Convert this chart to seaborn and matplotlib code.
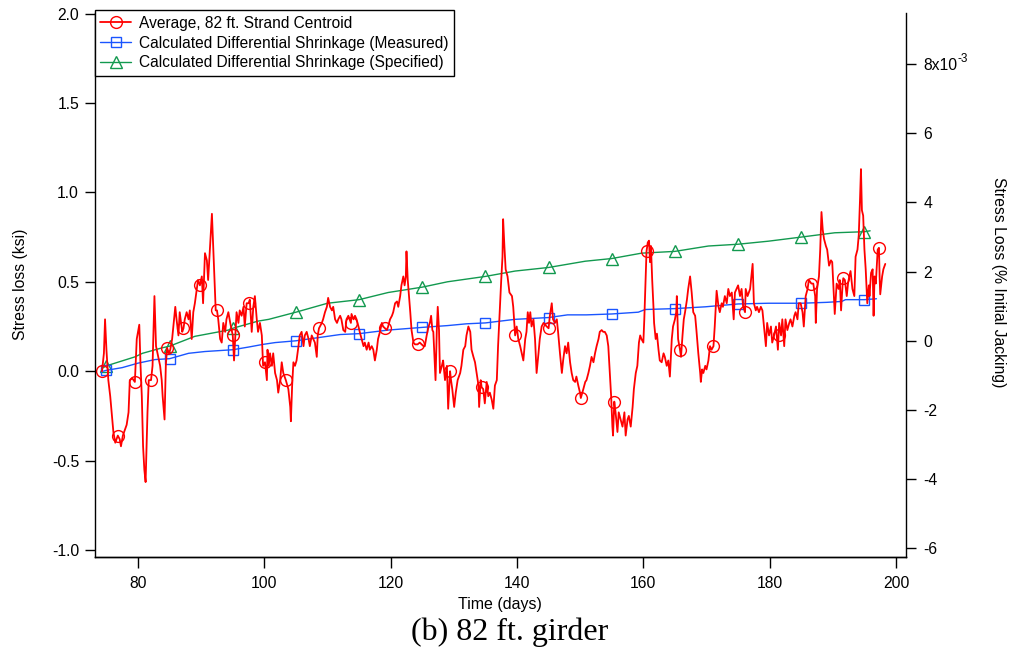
import numpy as np
import pandas as pd
import matplotlib
matplotlib.use("Agg")
import matplotlib.pyplot as plt
import seaborn as sns
from matplotlib.ticker import FixedLocator, FixedFormatter

# ---------------- data ----------------
red_days = [74.3, 74.6, 74.78, 75.0, 75.3, 75.6, 76.1, 76.4, 76.8, 77.1, 77.3, 77.6, 77.9, 78.2, 78.5, 78.7,
            79.1, 79.5, 79.8, 80.2, 80.4, 80.6, 80.8, 81.0, 81.2, 81.5, 81.7, 82.06, 82.3, 82.6, 82.85, 83.2,
            83.5, 83.75, 83.9, 84.2, 84.4, 84.6, 84.9, 85.1, 85.4, 85.9, 86.1, 86.4, 86.6, 87.0, 87.2, 87.4,
            87.7, 88.0, 88.2, 88.5, 88.75, 89.0, 89.5, 89.8, 90.1, 90.3, 90.6, 90.9, 91.1, 91.4, 91.7, 91.9,
            92.1, 92.3, 92.5, 92.7, 93.0, 93.25, 93.5, 93.8, 94.0, 94.3, 94.6, 95.0, 95.2, 95.6, 95.9, 96.1,
            96.4, 96.7, 96.9, 97.2, 97.5, 97.7, 98.0, 98.25, 98.5, 98.8, 99.0, 99.3, 99.6, 99.8, 100.1, 100.4,
            100.5, 100.7, 100.9, 101.2, 101.4, 101.7, 102.0, 102.2, 102.5, 102.75, 103.0, 103.4, 103.8, 104.1,
            104.2, 104.4, 104.6, 104.85, 105.1, 105.4, 105.6, 105.9, 106.2, 106.4, 106.7, 107.0, 107.2, 107.5,
            107.75, 108.0, 108.3, 108.45, 108.65, 108.8, 109.1, 109.3, 109.6, 109.9, 110.1, 110.4, 110.7, 110.9,
            111.2, 111.5, 111.7, 112.0, 112.2, 112.5, 112.8, 113.0, 113.3, 113.7, 113.8, 114.1, 114.35, 114.6,
            114.9, 115.1, 115.4, 115.7, 115.9, 116.2, 116.5, 116.7, 117.0, 117.25, 117.5, 117.8, 118.0, 118.3,
            118.6, 118.8, 119.1, 119.4, 119.6, 119.9, 120.2, 120.4, 120.7, 121.0, 121.2, 121.5, 121.7, 122.0,
            122.2, 122.4, 122.5, 122.7, 122.9, 123.1, 123.3, 123.6, 123.85, 124.25, 124.6, 125.2, 125.4, 125.7,
            126.0, 126.2, 126.4, 126.6, 126.75, 126.9, 127.1, 127.3, 127.45, 127.65, 127.8, 128.1, 128.3, 128.6,
            128.9, 129.1, 129.4, 129.55, 129.75, 130.05, 130.3, 130.6, 131.0, 131.2, 131.5, 131.8, 132.0, 132.3,
            132.6, 132.8, 133.1, 133.35, 133.6, 133.9, 134.0, 134.25, 134.4, 134.65, 134.9, 135.2, 135.45, 135.7,
            136.0, 136.25, 136.5, 136.8, 137.0, 137.3, 137.5, 137.7, 137.8, 138.0, 138.2, 138.5, 138.8, 139.2,
            139.4, 139.7, 139.95, 140.2, 140.5, 140.75, 141.0, 141.3, 141.5, 141.7, 141.9, 142.1, 142.3, 142.6,
            142.85, 143.1, 143.4, 143.6, 143.9, 144.2, 144.7, 145.0, 145.2, 145.5, 145.7, 146.0, 146.3, 146.5,
            146.8, 147.1, 147.3, 147.6, 147.85, 148.1, 148.4, 148.65, 148.9, 149.2, 149.4, 149.7, 149.97, 150.1,
            150.5, 150.8, 151.0, 151.3, 151.55, 151.8, 152.1, 152.35, 152.6, 152.9, 153.1, 153.4, 153.65, 153.9,
            154.2, 154.45, 154.7, 154.9, 155.1, 155.2, 155.4, 155.6, 155.9, 156.1, 156.4, 156.7, 157.0, 157.2,
            157.5, 157.7, 158.0, 158.3, 158.5, 158.8, 159.05, 159.3, 159.5, 159.7, 160.0, 160.15, 160.4, 160.5,
            160.7, 160.9, 161.05, 161.2, 161.4, 161.6, 161.7, 161.95, 162.15, 162.4, 162.6, 162.9, 163.2, 163.4,
            163.7, 163.95, 164.2, 164.5, 164.7, 165.0, 165.2, 165.3, 165.5, 165.8, 165.96, 166.2, 166.4, 166.6,
            166.9, 167.1, 167.4, 167.65, 167.9, 168.2, 168.4, 168.7, 169.0, 169.1, 169.3, 169.5, 169.8, 170.0,
            170.3, 170.55, 170.8, 171.1, 171.3, 171.6, 171.9, 172.1, 172.4, 172.6, 172.9, 173.2, 173.45, 173.7,
            174.0, 174.3, 174.5, 175.0, 175.3, 175.55, 175.8, 176.1, 176.2, 176.5, 176.9, 177.1, 177.3, 177.5,
            177.8, 178.0, 178.3, 178.6, 178.85, 179.1, 179.4, 179.6, 179.9, 180.2, 180.4, 180.7, 181.0, 181.3,
            181.4, 181.5, 181.8, 182.0, 182.3, 182.5, 182.8, 183.1, 183.3, 183.6, 183.9, 184.1, 184.4, 184.6,
            184.9, 185.2, 185.4, 185.7, 186.0, 186.2, 186.6, 186.9, 187.2, 187.3, 187.5, 187.8, 188.0, 188.2,
            188.4, 188.6, 188.9, 189.1, 189.4, 189.7, 189.9, 190.1, 190.3, 190.6, 190.9, 191.1, 191.3, 191.55,
            191.65, 191.9, 192.2, 192.4, 192.6, 192.8, 193.1, 193.4, 193.6, 193.9, 194.1, 194.3, 194.45, 194.6,
            194.8, 195.0, 195.2, 195.45, 195.7, 195.8, 196.05, 196.3, 196.45, 196.6, 196.8, 197.1, 197.3, 197.4,
            197.5, 197.8, 198.0, 198.3]
red_vals = [0.00, 0.10, 0.29, 0.12, -0.05, -0.14, -0.34, -0.40, -0.36, -0.38, -0.42, -0.36, -0.33, -0.30, -0.23, -0.05,
            -0.04, -0.06, 0.18, 0.26, 0.03, -0.14, -0.42, -0.55, -0.62, -0.23, -0.05, -0.05, 0.03, 0.42, 0.14, 0.08,
            0.03, -0.05, -0.14, -0.27, 0.03, 0.13, 0.10, 0.12, 0.18, 0.36, 0.29, 0.20, 0.33, 0.22, 0.24, 0.29,
            0.33, 0.29, 0.34, 0.18, 0.33, 0.38, 0.51, 0.48, 0.53, 0.38, 0.66, 0.62, 0.51, 0.70, 0.88, 0.70,
            0.51, 0.34, 0.34, 0.29, 0.18, 0.16, 0.27, 0.22, 0.29, 0.33, 0.27, 0.20, 0.06, 0.33, 0.27, 0.34,
            0.31, 0.36, 0.25, 0.38, 0.38, 0.40, 0.22, 0.36, 0.42, 0.29, 0.22, 0.27, 0.20, 0.03, 0.05, -0.05,
            0.12, 0.03, 0.10, 0.03, 0.10, -0.01, -0.05, -0.12, -0.05, 0.05, -0.01, -0.05, -0.10, -0.20,
            -0.28, -0.08, 0.05, 0.03, 0.06, 0.14, 0.20, 0.22, 0.14, 0.20, 0.22, 0.18, 0.14, 0.20,
            0.18, 0.16, 0.08, 0.20, 0.24, 0.25, 0.27, 0.29, 0.33, 0.36, 0.41, 0.36, 0.34, 0.36,
            0.29, 0.27, 0.29, 0.31, 0.29, 0.23, 0.22, 0.29, 0.31, 0.27, 0.32, 0.29, 0.31, 0.29,
            0.25, 0.22, 0.18, 0.14, 0.16, 0.12, 0.16, 0.12, 0.14, 0.12, 0.06, 0.12, 0.18, 0.22,
            0.27, 0.25, 0.24, 0.23, 0.25, 0.29, 0.31, 0.33, 0.38, 0.39, 0.36, 0.42, 0.48, 0.53,
            0.48, 0.53, 0.67, 0.51, 0.42, 0.33, 0.23, 0.16, 0.15, 0.15, 0.16, 0.14, 0.14, 0.20,
            0.25, 0.27, 0.31, 0.23, 0.22, 0.10, -0.05, 0.23, 0.36, 0.23, -0.01, 0.03, 0.06, -0.05,
            0.03, -0.21, 0.00, -0.05, -0.10, -0.20, -0.12, -0.05, -0.01, 0.03, 0.12, 0.14, 0.20, 0.25,
            0.22, 0.12, 0.08, 0.05, -0.01, -0.08, -0.20, -0.05, -0.09, -0.10, -0.18, -0.06, -0.14, -0.12,
            -0.16, -0.21, -0.08, -0.05, 0.14, 0.36, 0.51, 0.64, 0.85, 0.70, 0.57, 0.53, 0.44, 0.42,
            0.36, 0.20, 0.25, 0.18, 0.14, 0.10, 0.06, 0.18, 0.22, 0.33, 0.27, 0.33, 0.25, 0.29,
            0.18, -0.01, 0.10, 0.18, 0.25, 0.27, 0.25, 0.24, 0.31, 0.38, 0.29, 0.27, 0.29, 0.22,
            0.10, -0.01, 0.06, 0.14, 0.10, 0.16, 0.05, -0.01, -0.05, -0.06, -0.03, -0.08, -0.12, -0.15,
            -0.10, -0.06, -0.05, -0.01, 0.03, 0.08, 0.05, 0.10, 0.14, 0.18, 0.22, 0.23, 0.22, 0.22,
            0.20, 0.14, -0.01, -0.14, -0.31, -0.36, -0.17, -0.23, -0.34, -0.23, -0.27, -0.31, -0.23, -0.36,
            -0.27, -0.25, -0.31, -0.20, -0.10, -0.01, 0.03, 0.16, 0.20, 0.18, 0.16, 0.29, 0.55, 0.67,
            0.72, 0.73, 0.61, 0.70, 0.51, 0.36, 0.27, 0.18, 0.21, 0.12, 0.06, 0.05, 0.10, 0.08,
            0.03, 0.06, -0.03, 0.18, 0.25, 0.29, 0.33, 0.42, 0.18, 0.12, 0.08, 0.20, 0.29, 0.33,
            0.40, 0.46, 0.53, 0.44, 0.33, 0.31, 0.23, 0.10, -0.01, -0.06, 0.01, -0.01, 0.03, 0.01,
            0.06, 0.14, 0.12, 0.14, 0.25, 0.45, 0.36, 0.33, 0.38, 0.36, 0.42, 0.38, 0.46, 0.42,
            0.44, 0.29, 0.44, 0.48, 0.42, 0.46, 0.36, 0.33, 0.46, 0.42, 0.46, 0.53, 0.60, 0.38,
            0.34, 0.36, 0.33, 0.36, 0.34, 0.25, 0.14, 0.27, 0.20, 0.25, 0.16, 0.20, 0.25, 0.12,
            0.20, 0.27, 0.20, 0.29, 0.14, 0.29, 0.23, 0.27, 0.29, 0.25, 0.31, 0.33, 0.29, 0.38,
            0.38, 0.33, 0.25, 0.42, 0.46, 0.51, 0.49, 0.49, 0.42, 0.27, 0.46, 0.53, 0.68, 0.89,
            0.79, 0.74, 0.70, 0.68, 0.59, 0.62, 0.61, 0.46, 0.32, 0.49, 0.46, 0.51, 0.34, 0.49,
            0.52, 0.51, 0.42, 0.49, 0.53, 0.56, 0.46, 0.42, 0.64, 0.68, 0.76, 0.96, 1.13, 0.90,
            0.87, 0.68, 0.57, 0.38, 0.48, 0.42, 0.55, 0.57, 0.31, 0.53, 0.49, 0.68, 0.69, 0.53,
            0.43, 0.53, 0.57, 0.60]
red_marker_days = [74.3, 76.8, 79.5, 82.06, 84.6, 87.2, 89.8, 92.5, 95.0, 97.5, 100.1, 103.4, 108.65,
                   113.7, 119.1, 124.25, 129.4, 134.4, 139.7, 145.0, 150.1, 155.4, 160.5, 165.8, 171.1,
                   176.1, 181.4, 186.6, 191.65, 197.3]

meas_days = [74.5, 75.0, 77.5, 80.0, 82.7, 85.0, 88.0, 90.6, 95.0, 97.5, 99.8, 101.7, 105.0, 109.0, 112.0,
             115.0, 119.6, 125.0, 129.0, 132.0, 135.0, 139.7, 145.0, 148.0, 151.0, 155.0, 159.2, 160.3, 165.0,
             169.8, 175.0, 179.8, 185.0, 189.0, 191.4, 192.0, 195.0, 196.9]
meas_vals = [0.0, 0.005, 0.02, 0.045, 0.065, 0.07, 0.10, 0.11, 0.12, 0.135, 0.15, 0.16, 0.17, 0.19, 0.205,
             0.21, 0.23, 0.245, 0.255, 0.265, 0.27, 0.29, 0.30, 0.315, 0.315, 0.32, 0.33, 0.345, 0.35,
             0.36, 0.376, 0.38, 0.38, 0.385, 0.39, 0.40, 0.40, 0.405]

spec_days = [74.5, 75.0, 79.5, 80.7, 83.75, 85.0, 89.0, 94.3, 95.0, 99.0, 100.7, 105.0, 110.0, 115.0, 119.6,
             125.0, 129.0, 135.0, 139.7, 145.0, 150.8, 155.0, 159.7, 165.0, 170.3, 175.0, 179.8, 185.0,
             190.3, 195.0, 195.9]
spec_vals = [0.02, 0.03, 0.08, 0.10, 0.13, 0.14, 0.195, 0.23, 0.24, 0.28, 0.29, 0.33, 0.38, 0.40, 0.44,
             0.47, 0.50, 0.53, 0.56, 0.58, 0.615, 0.63, 0.66, 0.67, 0.70, 0.71, 0.727, 0.75,
             0.774, 0.78, 0.785]
shrink_marker_days = [75, 85, 95, 105, 115, 125, 135, 145, 155, 165, 175, 185, 195]

labels = ["Average, 82 ft. Strand Centroid",
          "Calculated Differential Shrinkage (Measured)",
          "Calculated Differential Shrinkage (Specified)"]
x_ticks = [80, 100, 120, 140, 160, 180, 200]
left_ticks = [-1.0, -0.5, 0.0, 0.5, 1.0, 1.5, 2.0]
right_ticks = [-6, -4, -2, 0, 2, 4, 6, 8]
right_tick_labels = ["-6", "-4", "-2", "0", "2", "4", "6", "8x10"]
right_exponent = "-3"

# ---------------- style ----------------
sns.set_theme(style="ticks")
plt.rcParams["font.family"] = ["Liberation Sans", "DejaVu Sans"]
plt.rcParams.update({
    "text.color": "black",
    "axes.labelcolor": "black",
    "xtick.color": "black",
    "ytick.color": "black",
    "axes.edgecolor": "black",
    "axes.linewidth": 1.0,
    "axes.unicode_minus": False,
})

RED = "#ff0000"
BLUE = "#1a55ff"
GREEN = "#12994f"

W, H = 1013, 655
fig = plt.figure(figsize=(W / 100, H / 100), dpi=100)
ax = fig.add_axes([95 / W, 1 - 557 / H, (906 - 95) / W, (557 - 13) / H])


def nearest_idx(days, marks):
    d = np.asarray(days)
    return sorted({int(np.argmin(np.abs(d - m))) for m in marks})


df_red = pd.DataFrame({"day": red_days, "val": red_vals})
df_meas = pd.DataFrame({"day": meas_days, "val": meas_vals})
df_spec = pd.DataFrame({"day": spec_days, "val": spec_vals})

sns.lineplot(data=df_spec, x="day", y="val", ax=ax, color=GREEN, lw=1.0, estimator=None, sort=False,
             marker="^", markevery=nearest_idx(spec_days, shrink_marker_days), ms=8,
             mfc="none", mec=GREEN, mew=1.0, label=labels[2])
sns.lineplot(data=df_meas, x="day", y="val", ax=ax, color=BLUE, lw=1.0, estimator=None, sort=False,
             marker="s", markevery=nearest_idx(meas_days, shrink_marker_days), ms=7.5,
             mfc="none", mec=BLUE, mew=1.0, label=labels[1])
sns.lineplot(data=df_red, x="day", y="val", ax=ax, color=RED, lw=1.3, estimator=None, sort=False,
             marker="o", markevery=nearest_idx(red_days, red_marker_days), ms=8.5,
             mfc="none", mec=RED, mew=1.0, label=labels[0])

ax.set_xlim(73.19, 201.58)
ax.set_ylim(-1.039, 2.003)
ax.xaxis.set_major_locator(FixedLocator(x_ticks))
ax.yaxis.set_major_locator(FixedLocator(left_ticks))
ax.yaxis.set_major_formatter(FixedFormatter([f"{v:.1f}" for v in left_ticks]))
ax.tick_params(axis="x", length=8, width=1, pad=6, labelsize=11.3, direction="out")
ax.tick_params(axis="y", length=7.5, width=1, pad=4, labelsize=11.3, direction="out")
ax.set_xlabel("")
ax.set_ylabel("")
ax.spines["top"].set_visible(False)
ax.spines["right"].set_visible(False)

ax2 = ax.twinx()
ax2.set_ylim(-6.25, 9.47)
ax2.yaxis.set_major_locator(FixedLocator(right_ticks))
ax2.yaxis.set_major_formatter(FixedFormatter(right_tick_labels))
ax2.tick_params(axis="y", length=7.5, width=1, pad=5, labelsize=11.3, direction="out")
ax2.spines["top"].set_visible(False)
ax2.spines["left"].set_visible(False)
ax2.spines["right"].set_visible(True)

# legend (order: red, blue, green)
h, l = ax.get_legend_handles_labels()
order = [l.index(t) for t in labels]
if ax.get_legend() is not None:
    ax.get_legend().remove()
leg = ax2.legend([h[i] for i in order], [l[i] for i in order],
                 loc="upper left", bbox_to_anchor=(94.5 / W, 1 - 10 / H), bbox_transform=fig.transFigure,
                 frameon=True, fancybox=False, framealpha=1, edgecolor="black", fontsize=11.2,
                 handlelength=1.95, handletextpad=0.5, borderpad=0.38, labelspacing=0.3, borderaxespad=0)
leg.get_frame().set_linewidth(1.0)

fig.text(20 / W, 1 - 284 / H, "Stress loss (ksi)", rotation=90, ha="center", va="center", fontsize=11.3)
fig.text(998 / W, 1 - 282 / H, "Stress Loss (% Initial Jacking)", rotation=270, ha="center", va="center",
         fontsize=11.3)
fig.text(500 / W, 1 - 605 / H, "Time (days)", ha="center", va="center", fontsize=11.5)
fig.text(510 / W, 1 - 632 / H, "(b) 82 ft. girder", ha="center", va="center", fontsize=23,
         family=["Liberation Serif", "DejaVu Serif"])

# superscript exponent after the top right tick label
fig.canvas.draw()
renderer = fig.canvas.get_renderer()
top_lbl = [t for t in ax2.get_yticklabels() if t.get_text() == "8x10"][0]
bb = top_lbl.get_window_extent(renderer)
fig.text((bb.x1 + 0.5) / W, (bb.y1 - 1) / H, right_exponent, ha="left", va="center", fontsize=8.5)

fig.savefig("out.png", dpi=100)
